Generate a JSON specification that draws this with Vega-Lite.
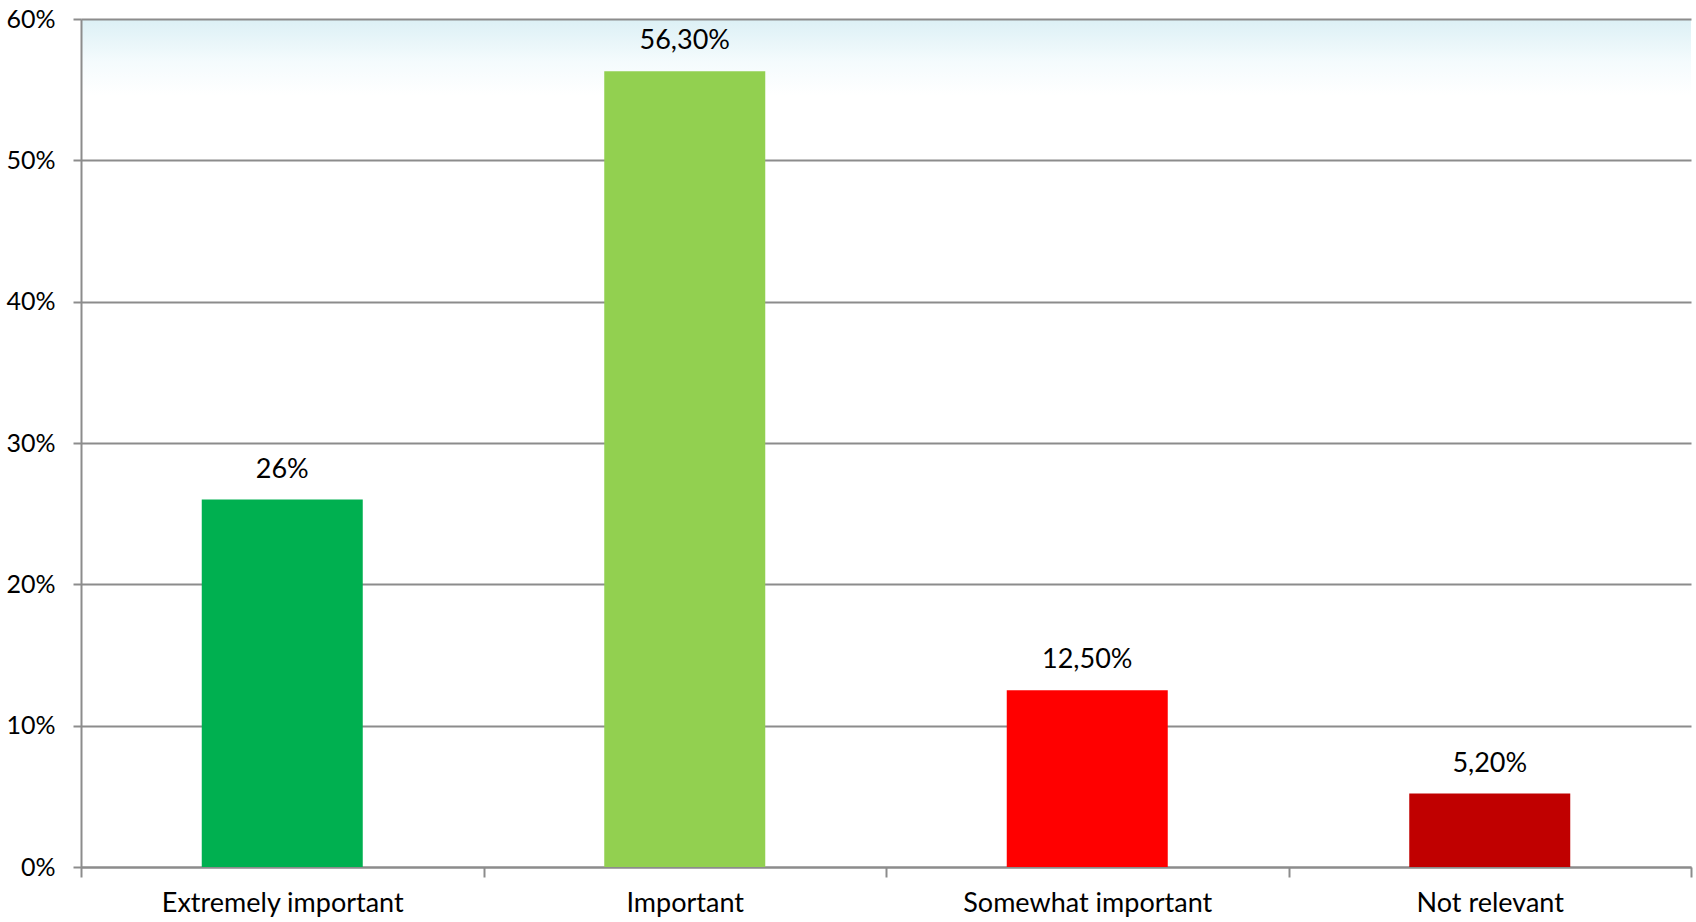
{
  "$schema": "https://vega.github.io/schema/vega-lite/v6.json",
  "width": 1610,
  "height": 848,
  "autosize": {"type": "none"},
  "padding": {"left": 81, "top": 19, "right": 5, "bottom": 55},
  "background": "white",
  "config": {
    "font": "Lato",
    "view": {
      "stroke": null,
      "fill": {
        "gradient": "linear",
        "x1": 0, "y1": 0, "x2": 0, "y2": 1,
        "stops": [
          {"offset": 0, "color": "#dcf0f5"},
          {"offset": 0.05, "color": "#f4fbfd"},
          {"offset": 0.09, "color": "#ffffff"},
          {"offset": 1, "color": "#ffffff"}
        ]
      }
    }
  },
  "data": {
    "values": [
      {"category": "Extremely important", "value": 26, "label": "26%", "color": "#00B050"},
      {"category": "Important", "value": 56.3, "label": "56,30%", "color": "#92D050"},
      {"category": "Somewhat important", "value": 12.5, "label": "12,50%", "color": "#FF0000"},
      {"category": "Not relevant", "value": 5.2, "label": "5,20%", "color": "#C00000"}
    ]
  },
  "encoding": {
    "x": {
      "field": "category",
      "type": "nominal",
      "sort": null,
      "scale": {"paddingInner": 0, "paddingOuter": 0},
      "axis": {
        "title": null,
        "labelAngle": 0,
        "labelFontSize": 27,
        "labelLimit": 0,
        "labelColor": "#000000",
        "labelPadding": 13,
        "domainColor": "#8c8c8c",
        "domainWidth": 2,
        "tickColor": "#8c8c8c",
        "tickWidth": 2,
        "tickSize": 10,
        "tickBand": "extent",
        "grid": false
      }
    },
    "y": {
      "field": "value",
      "type": "quantitative",
      "scale": {"domain": [0, 60], "nice": false},
      "axis": {
        "title": null,
        "values": [0, 10, 20, 30, 40, 50, 60],
        "labelExpr": "datum.value + '%'",
        "labelFontSize": 25,
        "labelColor": "#000000",
        "labelPadding": 18,
        "domainColor": "#8c8c8c",
        "domainWidth": 2,
        "tickColor": "#8c8c8c",
        "tickWidth": 2,
        "tickSize": 8,
        "grid": true,
        "gridColor": "#8c8c8c",
        "gridWidth": 2
      }
    }
  },
  "layer": [
    {
      "mark": {"type": "bar", "width": {"band": 0.4}},
      "encoding": {
        "color": {"field": "color", "type": "nominal", "scale": null}
      }
    },
    {
      "mark": {"type": "text", "baseline": "bottom", "dy": -16, "fontSize": 27, "color": "#000000"},
      "encoding": {
        "text": {"field": "label"}
      }
    }
  ]
}
